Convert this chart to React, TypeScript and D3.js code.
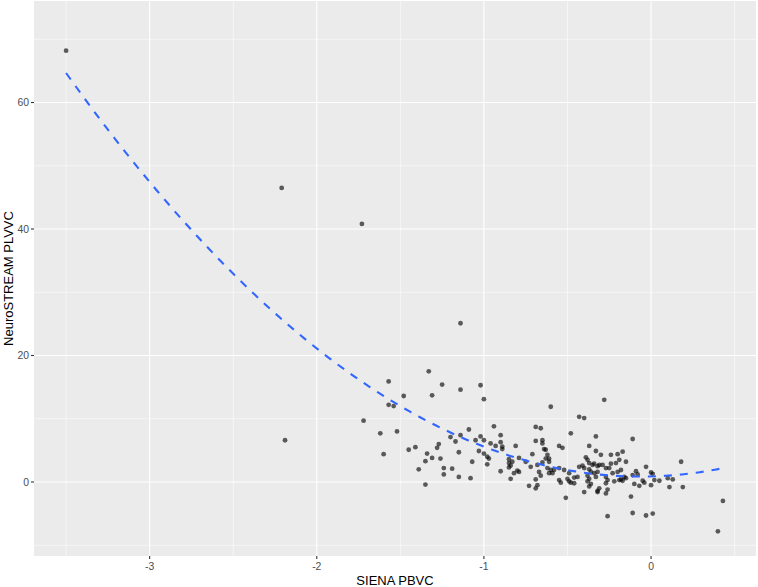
import React from "react";
import * as d3 from "d3";

const sienaPBVC: number[] = [
  -3.5, -2.21, -1.73, -2.19, -1.14, -1.33, -1.57, -1.25, -1.14, -1.02, -1.0, -1.48, -1.31, -1.57, -1.54, -1.72,
  -1.62, -1.52, -1.09, -0.94, -0.9, -1.2, -1.14, -1.02, -1.6, -1.45, -1.41, -1.27, -1.28, -1.34, -1.31, -1.35,
  -1.26, -1.39, -1.35, -1.24, -1.19, -1.24, -1.15, -1.08, -1.15, -1.07, -1.17, -1.05, -1.0, -0.96, -0.93, -0.9,
  -0.89, -0.89, -0.81, -1.03, -1.0, -0.98, -0.97, -0.98, -0.9, -0.85, -0.85, -0.85, -0.83, -0.84, -0.79, -0.82,
  -0.84, -0.8, -0.6, -0.28, -0.43, -0.4, -0.69, -0.66, -0.48, -0.33, -0.69, -0.65, -0.65, -0.55, -0.53, -0.37,
  -0.64, -0.33, -0.3, -0.24, -0.2, -0.17, -0.15, -0.71, -0.75, -0.72, -0.68, -0.67, -0.66, -0.79, -0.63, -0.62,
  -0.63, -0.61, -0.61, -0.62, -0.6, -0.61, -0.59, -0.58, -0.65, -0.55, -0.55, -0.54, -0.51, -0.69, -0.68, -0.69,
  -0.73, -0.5, -0.49, -0.48, -0.46, -0.46, -0.44, -0.43, -0.41, -0.4, -0.39, -0.38, -0.37, -0.35, -0.34, -0.32,
  -0.31, -0.37, -0.36, -0.38, -0.37, -0.38, -0.36, -0.37, -0.34, -0.33, -0.32, -0.4, -0.32, -0.31, -0.32, -0.27,
  -0.26, -0.27, -0.26, -0.27, -0.25, -0.24, -0.29, -0.27, -0.26, -0.22, -0.19, -0.23, -0.2, -0.18, -0.21, -0.19,
  -0.49, -0.52, -0.11, 0.18, -0.03, -0.09, -0.08, -0.11, -0.16, -0.15, -0.17, -0.18, 0.0, 0.01, -0.05, -0.04,
  -0.1, -0.07, 0.0, 0.02, 0.05, 0.1, 0.13, 0.11, 0.19, -0.12, -0.11, -0.03, 0.01, 0.43, 0.4,
];

const neurostreamPLVVC: number[] = [
  68.2, 46.5, 40.8, 6.6, 25.1, 17.5, 15.9, 15.4, 14.6, 15.3, 13.1, 13.6, 13.7, 12.2, 12.0, 9.7,
  7.7, 8.0, 8.3, 8.8, 7.4, 7.1, 7.4, 7.2, 4.4, 5.1, 5.5, 6.0, 5.4, 4.5, 3.8, 3.3,
  3.7, 2.0, -0.4, 2.2, 2.1, 1.2, 0.8, 0.6, 4.7, 3.2, 6.4, 6.6, 6.6, 6.1, 5.7, 6.3,
  5.6, 5.2, 5.7, 4.9, 4.5, 4.0, 3.7, 2.8, 1.7, 3.6, 3.0, 2.3, 3.2, 2.6, 3.8, 1.4,
  0.5, 1.8, 11.9, 13.0, 10.3, 10.1, 8.7, 8.5, 7.7, 7.2, 6.5, 6.6, 6.1, 5.7, 5.4, 5.7,
  5.2, 4.9, 4.3, 4.3, 4.4, 4.8, 3.2, 4.4, 3.2, 2.4, 2.7, 1.6, 1.0, 1.6, 5.1, 4.3,
  3.7, 3.7, 3.2, 2.2, 1.9, 1.4, 1.4, 1.9, 3.1, 2.2, 0.3, -0.1, -2.5, 0.4, -0.5, -1.0,
  -0.6, 0.5, 0.1, -0.1, -0.2, 0.7, 0.8, 2.4, 2.6, 2.2, 3.9, 3.5, 3.0, 2.7, 2.9, 2.5,
  2.7, 2.0, 1.6, 1.0, 0.5, 0.1, -0.3, -0.7, 1.4, 0.8, 1.6, -1.6, -1.4, -1.0, -1.6, -1.8,
  -1.2, -0.2, 0.3, 0.8, 2.2, 2.9, 2.7, 2.2, -5.4, 0.1, 0.3, 1.4, 1.6, 1.9, 3.0, 3.5,
  1.4, 1.9, 6.8, 3.2, 2.4, 1.7, 1.2, 1.1, 0.8, 0.6, 0.2, 0.4, 1.5, 1.3, 0.2, -0.1,
  -0.3, -0.6, -0.5, 0.3, 0.2, 0.6, 0.4, -0.8, -0.8, -2.3, -4.9, -5.3, -5.0, -3.0, -7.8,
];

const xTicks: number[] = [-3, -2, -1, 0];
const xMinor: number[] = [-3.5, -2.5, -1.5, -0.5, 0.5];
const yTicks: number[] = [0, 20, 40, 60];
const yMinor: number[] = [-10, 10, 30, 50, 70];

const xTitle = "SIENA PBVC";
const yTitle = "NeuroSTREAM PLVVC";

function quadFit(xs: number[], ys: number[]): [number, number, number] {
  // least squares for y = a + b x + c x^2
  const S = [0, 0, 0, 0, 0];
  const T = [0, 0, 0];
  for (let i = 0; i < xs.length; i++) {
    const x = xs[i];
    const y = ys[i];
    let p = 1;
    for (let k = 0; k < 5; k++) {
      S[k] += p;
      if (k < 3) T[k] += p * y;
      p *= x;
    }
  }
  const M = [
    [S[0], S[1], S[2], T[0]],
    [S[1], S[2], S[3], T[1]],
    [S[2], S[3], S[4], T[2]],
  ];
  for (let i = 0; i < 3; i++) {
    let piv = i;
    for (let r = i + 1; r < 3; r++) if (Math.abs(M[r][i]) > Math.abs(M[piv][i])) piv = r;
    [M[i], M[piv]] = [M[piv], M[i]];
    for (let r = 0; r < 3; r++) {
      if (r === i) continue;
      const f = M[r][i] / M[i][i];
      for (let c = i; c < 4; c++) M[r][c] -= f * M[i][c];
    }
  }
  return [M[0][3] / M[0][0], M[1][3] / M[1][1], M[2][3] / M[2][2]];
}

export default function App() {
  const W = 758;
  const H = 587;
  const left = 34;
  const right = 756;
  const top = 1;
  const bottom = 556;

  const x = d3.scaleLinear().domain([-3.692, 0.628]).range([left, right]);
  const y = d3.scaleLinear().domain([-11.7, 76.05]).range([bottom, top]);

  const points = sienaPBVC.map((v, i) => ({ x: v, y: neurostreamPLVVC[i] }));
  const [a, b, c] = quadFit(sienaPBVC, neurostreamPLVVC);
  const [xmin, xmax] = d3.extent(sienaPBVC) as [number, number];
  const curve = d3.range(0, 81).map((i) => {
    const xv = xmin + ((xmax - xmin) * i) / 80;
    return [xv, a + b * xv + c * xv * xv] as [number, number];
  });
  const line = d3
    .line<[number, number]>()
    .x((d) => x(d[0]))
    .y((d) => y(d[1]));

  const font = "'Liberation Sans', Arial, Helvetica, sans-serif";

  return (
    <svg
      width={W}
      height={H}
      style={{ position: "absolute", left: 0, top: 0, background: "#ffffff" }}
      fontFamily={font}
    >
      <rect x={left} y={top} width={right - left} height={bottom - top} fill="#EBEBEB" />
      {yMinor.map((t) => (
        <line key={"ym" + t} x1={left} x2={right} y1={y(t)} y2={y(t)} stroke="#ffffff" strokeWidth={0.55} />
      ))}
      {xMinor.map((t) => (
        <line key={"xm" + t} x1={x(t)} x2={x(t)} y1={top} y2={bottom} stroke="#ffffff" strokeWidth={0.55} />
      ))}
      {yTicks.map((t) => (
        <line key={"yM" + t} x1={left} x2={right} y1={y(t)} y2={y(t)} stroke="#ffffff" strokeWidth={1.1} />
      ))}
      {xTicks.map((t) => (
        <line key={"xM" + t} x1={x(t)} x2={x(t)} y1={top} y2={bottom} stroke="#ffffff" strokeWidth={1.1} />
      ))}
      <g>
        {points.map((p, i) => (
          <circle key={i} cx={x(p.x)} cy={y(p.y)} r={2.4} fill="#000000" fillOpacity={0.62} />
        ))}
      </g>
      <path d={line(curve) || ""} fill="none" stroke="#3366FF" strokeWidth={2.1} strokeDasharray="8,8" />
      {yTicks.map((t) => (
        <g key={"yt" + t}>
          <line x1={left - 3} x2={left} y1={y(t)} y2={y(t)} stroke="#333333" strokeWidth={1.1} />
          <text x={left - 5} y={y(t)} dy="0.35em" textAnchor="end" fontSize={10.4} fill="#4D4D4D">
            {t}
          </text>
        </g>
      ))}
      {xTicks.map((t) => (
        <g key={"xt" + t}>
          <line x1={x(t)} x2={x(t)} y1={bottom} y2={bottom + 3} stroke="#333333" strokeWidth={1.1} />
          <text x={x(t)} y={bottom + 14} textAnchor="middle" fontSize={10.4} fill="#4D4D4D">
            {t}
          </text>
        </g>
      ))}
      <text x={(left + right) / 2} y={585} textAnchor="middle" fontSize={13} fill="#000000">
        {xTitle}
      </text>
      <text
        transform={`translate(12.5,${(top + bottom) / 2}) rotate(-90)`}
        textAnchor="middle"
        fontSize={13}
        fill="#000000"
      >
        {yTitle}
      </text>
    </svg>
  );
}
